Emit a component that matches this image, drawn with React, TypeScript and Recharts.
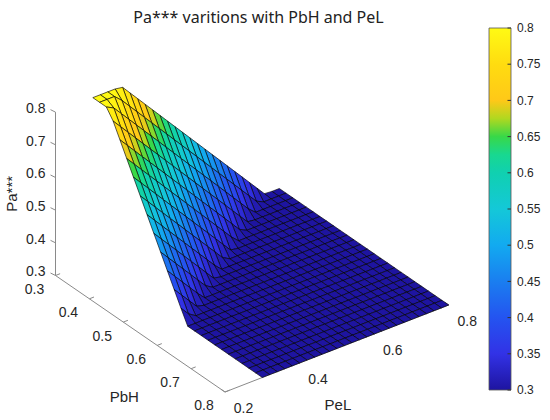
import React from 'react';
import { ScatterChart, Scatter, XAxis, YAxis, BarChart, Bar } from 'recharts';

// ---------- data ----------
const PBH = [0.3, 0.32, 0.34, 0.36, 0.38, 0.4, 0.42, 0.44, 0.46, 0.48, 0.5, 0.52, 0.54, 0.56, 0.58, 0.6, 0.62, 0.64, 0.66, 0.68, 0.7, 0.72, 0.74, 0.76, 0.78, 0.8];
const PEL = [0.3, 0.32, 0.34, 0.36, 0.38, 0.4, 0.42, 0.44, 0.46, 0.48, 0.5, 0.52, 0.54, 0.56, 0.58, 0.6, 0.62, 0.64, 0.66, 0.68, 0.7, 0.72, 0.74, 0.76, 0.78, 0.8];

// Pa*** values, one row per PbH, one column per PeL
const PA: number[][] = [
  [0.8, 0.8, 0.8, 0.8, 0.796, 0.77, 0.744, 0.718, 0.692, 0.666, 0.64, 0.614, 0.588, 0.562, 0.536, 0.51, 0.484, 0.458, 0.432, 0.406, 0.38, 0.354, 0.328, 0.302, 0.3, 0.3],
  [0.8, 0.8, 0.8, 0.779, 0.753, 0.727, 0.701, 0.675, 0.649, 0.623, 0.597, 0.571, 0.545, 0.519, 0.493, 0.467, 0.441, 0.415, 0.389, 0.363, 0.337, 0.311, 0.3, 0.3, 0.3, 0.3],
  [0.8, 0.788, 0.762, 0.736, 0.71, 0.684, 0.658, 0.632, 0.606, 0.58, 0.554, 0.528, 0.502, 0.476, 0.45, 0.424, 0.398, 0.372, 0.346, 0.32, 0.3, 0.3, 0.3, 0.3, 0.3, 0.3],
  [0.771, 0.745, 0.719, 0.693, 0.667, 0.641, 0.615, 0.589, 0.563, 0.537, 0.511, 0.485, 0.459, 0.433, 0.407, 0.381, 0.355, 0.329, 0.303, 0.3, 0.3, 0.3, 0.3, 0.3, 0.3, 0.3],
  [0.728, 0.702, 0.676, 0.65, 0.624, 0.598, 0.572, 0.546, 0.52, 0.494, 0.468, 0.442, 0.416, 0.39, 0.364, 0.338, 0.312, 0.3, 0.3, 0.3, 0.3, 0.3, 0.3, 0.3, 0.3, 0.3],
  [0.685, 0.659, 0.633, 0.607, 0.581, 0.555, 0.529, 0.503, 0.477, 0.451, 0.425, 0.399, 0.373, 0.347, 0.321, 0.3, 0.3, 0.3, 0.3, 0.3, 0.3, 0.3, 0.3, 0.3, 0.3, 0.3],
  [0.642, 0.616, 0.59, 0.564, 0.538, 0.512, 0.486, 0.46, 0.434, 0.408, 0.382, 0.356, 0.33, 0.304, 0.3, 0.3, 0.3, 0.3, 0.3, 0.3, 0.3, 0.3, 0.3, 0.3, 0.3, 0.3],
  [0.599, 0.573, 0.547, 0.521, 0.495, 0.469, 0.443, 0.417, 0.391, 0.365, 0.339, 0.313, 0.3, 0.3, 0.3, 0.3, 0.3, 0.3, 0.3, 0.3, 0.3, 0.3, 0.3, 0.3, 0.3, 0.3],
  [0.556, 0.53, 0.504, 0.478, 0.452, 0.426, 0.4, 0.374, 0.348, 0.322, 0.3, 0.3, 0.3, 0.3, 0.3, 0.3, 0.3, 0.3, 0.3, 0.3, 0.3, 0.3, 0.3, 0.3, 0.3, 0.3],
  [0.513, 0.487, 0.461, 0.435, 0.409, 0.383, 0.357, 0.331, 0.305, 0.3, 0.3, 0.3, 0.3, 0.3, 0.3, 0.3, 0.3, 0.3, 0.3, 0.3, 0.3, 0.3, 0.3, 0.3, 0.3, 0.3],
  [0.47, 0.444, 0.418, 0.392, 0.366, 0.34, 0.314, 0.3, 0.3, 0.3, 0.3, 0.3, 0.3, 0.3, 0.3, 0.3, 0.3, 0.3, 0.3, 0.3, 0.3, 0.3, 0.3, 0.3, 0.3, 0.3],
  [0.427, 0.401, 0.375, 0.349, 0.323, 0.3, 0.3, 0.3, 0.3, 0.3, 0.3, 0.3, 0.3, 0.3, 0.3, 0.3, 0.3, 0.3, 0.3, 0.3, 0.3, 0.3, 0.3, 0.3, 0.3, 0.3],
  [0.384, 0.358, 0.332, 0.306, 0.3, 0.3, 0.3, 0.3, 0.3, 0.3, 0.3, 0.3, 0.3, 0.3, 0.3, 0.3, 0.3, 0.3, 0.3, 0.3, 0.3, 0.3, 0.3, 0.3, 0.3, 0.3],
  [0.341, 0.315, 0.3, 0.3, 0.3, 0.3, 0.3, 0.3, 0.3, 0.3, 0.3, 0.3, 0.3, 0.3, 0.3, 0.3, 0.3, 0.3, 0.3, 0.3, 0.3, 0.3, 0.3, 0.3, 0.3, 0.3],
  [0.3, 0.3, 0.3, 0.3, 0.3, 0.3, 0.3, 0.3, 0.3, 0.3, 0.3, 0.3, 0.3, 0.3, 0.3, 0.3, 0.3, 0.3, 0.3, 0.3, 0.3, 0.3, 0.3, 0.3, 0.3, 0.3],
  [0.3, 0.3, 0.3, 0.3, 0.3, 0.3, 0.3, 0.3, 0.3, 0.3, 0.3, 0.3, 0.3, 0.3, 0.3, 0.3, 0.3, 0.3, 0.3, 0.3, 0.3, 0.3, 0.3, 0.3, 0.3, 0.3],
  [0.3, 0.3, 0.3, 0.3, 0.3, 0.3, 0.3, 0.3, 0.3, 0.3, 0.3, 0.3, 0.3, 0.3, 0.3, 0.3, 0.3, 0.3, 0.3, 0.3, 0.3, 0.3, 0.3, 0.3, 0.3, 0.3],
  [0.3, 0.3, 0.3, 0.3, 0.3, 0.3, 0.3, 0.3, 0.3, 0.3, 0.3, 0.3, 0.3, 0.3, 0.3, 0.3, 0.3, 0.3, 0.3, 0.3, 0.3, 0.3, 0.3, 0.3, 0.3, 0.3],
  [0.3, 0.3, 0.3, 0.3, 0.3, 0.3, 0.3, 0.3, 0.3, 0.3, 0.3, 0.3, 0.3, 0.3, 0.3, 0.3, 0.3, 0.3, 0.3, 0.3, 0.3, 0.3, 0.3, 0.3, 0.3, 0.3],
  [0.3, 0.3, 0.3, 0.3, 0.3, 0.3, 0.3, 0.3, 0.3, 0.3, 0.3, 0.3, 0.3, 0.3, 0.3, 0.3, 0.3, 0.3, 0.3, 0.3, 0.3, 0.3, 0.3, 0.3, 0.3, 0.3],
  [0.3, 0.3, 0.3, 0.3, 0.3, 0.3, 0.3, 0.3, 0.3, 0.3, 0.3, 0.3, 0.3, 0.3, 0.3, 0.3, 0.3, 0.3, 0.3, 0.3, 0.3, 0.3, 0.3, 0.3, 0.3, 0.3],
  [0.3, 0.3, 0.3, 0.3, 0.3, 0.3, 0.3, 0.3, 0.3, 0.3, 0.3, 0.3, 0.3, 0.3, 0.3, 0.3, 0.3, 0.3, 0.3, 0.3, 0.3, 0.3, 0.3, 0.3, 0.3, 0.3],
  [0.3, 0.3, 0.3, 0.3, 0.3, 0.3, 0.3, 0.3, 0.3, 0.3, 0.3, 0.3, 0.3, 0.3, 0.3, 0.3, 0.3, 0.3, 0.3, 0.3, 0.3, 0.3, 0.3, 0.3, 0.3, 0.3],
  [0.3, 0.3, 0.3, 0.3, 0.3, 0.3, 0.3, 0.3, 0.3, 0.3, 0.3, 0.3, 0.3, 0.3, 0.3, 0.3, 0.3, 0.3, 0.3, 0.3, 0.3, 0.3, 0.3, 0.3, 0.3, 0.3],
  [0.3, 0.3, 0.3, 0.3, 0.3, 0.3, 0.3, 0.3, 0.3, 0.3, 0.3, 0.3, 0.3, 0.3, 0.3, 0.3, 0.3, 0.3, 0.3, 0.3, 0.3, 0.3, 0.3, 0.3, 0.3, 0.3],
  [0.3, 0.3, 0.3, 0.3, 0.3, 0.3, 0.3, 0.3, 0.3, 0.3, 0.3, 0.3, 0.3, 0.3, 0.3, 0.3, 0.3, 0.3, 0.3, 0.3, 0.3, 0.3, 0.3, 0.3, 0.3, 0.3],
];

const Z_TICKS = [0.3, 0.4, 0.5, 0.6, 0.7, 0.8];
const PBH_TICKS = [0.3, 0.4, 0.5, 0.6, 0.7, 0.8];
const PEL_TICKS = [0.2, 0.4, 0.6, 0.8];
const CBAR_TICKS = [0.3, 0.35, 0.4, 0.45, 0.5, 0.55, 0.6, 0.65, 0.7, 0.75, 0.8];

const PBH_LIM = [0.3, 0.8];
const PEL_LIM = [0.2, 0.8];
const PA_LIM = [0.3, 0.8];

const CMAP_VALUES = [0.3, 0.35, 0.4, 0.45, 0.5, 0.55, 0.6, 0.625, 0.65, 0.675, 0.7, 0.75, 0.8];
const CMAP_COLORS = ['#1e14a0', '#3232e6', '#2454f0', '#1a7ef0', '#12aaf0', '#14c8d8', '#10d0b0', '#18d890', '#38d848', '#b0d820', '#ffc818', '#ffdc10', '#fffa14'];

const TITLE = 'Pa*** varitions with PbH and PeL';
const Z_LABEL = 'Pa***';
const X_LABEL = 'PbH';
const Y_LABEL = 'PeL';

// ---------- view (3-D projection into the chart's 2-D plane) ----------
const W = 550;
const H = 420;
const ORIGIN = [55.5, 275.5];
const V_PBH = [339, 233];
const V_PEL = [373, -145];
const V_PA = [0, -326.7];

function project(pbh: number, pel: number, pa: number) {
  const a = pbh - PBH_LIM[0];
  const b = pel - PEL_LIM[0];
  const c = pa - PA_LIM[0];
  return {
    sx: ORIGIN[0] + a * V_PBH[0] + b * V_PEL[0] + c * V_PA[0],
    sy: ORIGIN[1] + a * V_PBH[1] + b * V_PEL[1] + c * V_PA[1],
  };
}

function hexToRgb(h: string) {
  return [parseInt(h.slice(1, 3), 16), parseInt(h.slice(3, 5), 16), parseInt(h.slice(5, 7), 16)];
}
function colorAt(v: number) {
  if (v <= CMAP_VALUES[0]) return CMAP_COLORS[0];
  for (let k = 1; k < CMAP_VALUES.length; k++) {
    if (v <= CMAP_VALUES[k]) {
      const t = (v - CMAP_VALUES[k - 1]) / (CMAP_VALUES[k] - CMAP_VALUES[k - 1]);
      const a = hexToRgb(CMAP_COLORS[k - 1]);
      const b = hexToRgb(CMAP_COLORS[k]);
      const r = a.map((x, n) => Math.round(x + (b[n] - x) * t));
      return `rgb(${r[0]},${r[1]},${r[2]})`;
    }
  }
  return CMAP_COLORS[CMAP_COLORS.length - 1];
}

// surface vertices, ordered far-to-near (PbH ascending, PeL descending)
const surfaceData: any[] = [];
for (let i = 0; i < PBH.length; i++) {
  for (let j = PEL.length - 1; j >= 0; j--) {
    surfaceData.push({ ...project(PBH[i], PEL[j], PA[i][j]), i, j });
  }
}

const zAxisLine = [project(PBH_LIM[0], PEL_LIM[0], PA_LIM[0]), project(PBH_LIM[0], PEL_LIM[0], PA_LIM[1])];
const pbhAxisLine = [project(PBH_LIM[0], PEL_LIM[0], PA_LIM[0]), project(PBH_LIM[1], PEL_LIM[0], PA_LIM[0])];
const pelAxisLine = [project(PBH_LIM[1], PEL_LIM[0], PA_LIM[0]), project(PBH_LIM[1], PEL_LIM[1], PA_LIM[0])];

const zTickData = Z_TICKS.map((v) => ({ ...project(PBH_LIM[0], PEL_LIM[0], v), value: v }));
const pbhTickData = PBH_TICKS.map((v) => ({ ...project(v, PEL_LIM[0], PA_LIM[0]), value: v }));
const pelTickData = PEL_TICKS.map((v) => ({ ...project(PBH_LIM[1], v, PA_LIM[0]), value: v }));

const zTitleData = [{ ...project(PBH_LIM[0], PEL_LIM[0], (PA_LIM[0] + PA_LIM[1]) / 2), label: Z_LABEL }];
const pbhTitleData = [{ ...project((PBH_LIM[0] + PBH_LIM[1]) / 2, PEL_LIM[0], PA_LIM[0]), label: X_LABEL }];
const pelTitleData = [{ ...project(PBH_LIM[1], (PEL_LIM[0] + PEL_LIM[1]) / 2, PA_LIM[0]), label: Y_LABEL }];

const TICK_FONT = '"Liberation Sans", Arial, sans-serif';
const TEXT_COLOR = '#262626';
const AXIS_COLOR = '#8a8a8a';

const vertexCache = new Map<string, [number, number]>();

function SurfaceVertex(props: any) {
  const { cx, cy, payload } = props;
  if (cx == null || cy == null || !payload) return <g />;
  const { i, j } = payload;
  vertexCache.set(i + ',' + j, [cx, cy]);
  if (i === 0 || j === PEL.length - 1) return <g />;
  const p1 = vertexCache.get(i - 1 + ',' + j);
  const p2 = vertexCache.get(i - 1 + ',' + (j + 1));
  const p3 = vertexCache.get(i + ',' + (j + 1));
  if (!p1 || !p2 || !p3) return <g />;
  const v = (PA[i][j] + PA[i - 1][j] + PA[i - 1][j + 1] + PA[i][j + 1]) / 4;
  return (
    <polygon
      points={`${p1[0]},${p1[1]} ${p2[0]},${p2[1]} ${p3[0]},${p3[1]} ${cx},${cy}`}
      fill={colorAt(v)}
      stroke="#000"
      strokeWidth={0.75}
      strokeOpacity={0.85}
      strokeLinejoin="round"
    />
  );
}

const Empty = () => <g />;

function ZTick(props: any) {
  const { cx, cy, payload } = props;
  return (
    <g>
      <line x1={cx} y1={cy} x2={cx - 5} y2={cy - 2.5} stroke={AXIS_COLOR} />
      <text x={cx - 10} y={cy - 4} dy="0.35em" textAnchor="end" fontFamily={TICK_FONT} fontSize={14} fill={TEXT_COLOR}>
        {String(payload.value)}
      </text>
    </g>
  );
}
function PbhTick(props: any) {
  const { cx, cy, payload } = props;
  return (
    <g>
      <line x1={cx} y1={cy} x2={cx + 4.6} y2={cy - 1.8} stroke={AXIS_COLOR} />
      <text x={cx - 21} y={cy + 13.5} dy="0.35em" textAnchor="middle" fontFamily={TICK_FONT} fontSize={14} fill={TEXT_COLOR}>
        {String(payload.value)}
      </text>
    </g>
  );
}
function PelTick(props: any) {
  const { cx, cy, payload } = props;
  return (
    <g>
      <line x1={cx} y1={cy} x2={cx - 4.1} y2={cy - 2.8} stroke={AXIS_COLOR} />
      <text x={cx + 18.5} y={cy + 16} dy="0.35em" textAnchor="middle" fontFamily={TICK_FONT} fontSize={14} fill={TEXT_COLOR}>
        {String(payload.value)}
      </text>
    </g>
  );
}
function ZTitle(props: any) {
  const { cx, cy, payload } = props;
  const x = cx - 43.5;
  return (
    <text x={x} y={cy} dy="0.35em" textAnchor="middle" transform={`rotate(-90 ${x} ${cy})`} fontFamily={TICK_FONT} fontSize={15} fill={TEXT_COLOR}>
      {payload.label}
    </text>
  );
}
function PbhTitle(props: any) {
  const { cx, cy, payload } = props;
  return (
    <text x={cx - 16} y={cy + 63} dy="0.35em" textAnchor="middle" fontFamily={TICK_FONT} fontSize={15} fill={TEXT_COLOR}>
      {payload.label}
    </text>
  );
}
function PelTitle(props: any) {
  const { cx, cy, payload } = props;
  return (
    <text x={cx + 1} y={cy + 56.5} dy="0.35em" textAnchor="middle" fontFamily={TICK_FONT} fontSize={15} fill={TEXT_COLOR}>
      {payload.label}
    </text>
  );
}

const cbarData = [{ name: 'Pa***', range: [PA_LIM[0], PA_LIM[1]] }];

function CbarTick(props: any) {
  const { x, y, payload } = props;
  return (
    <g>
      <line x1={x - 9.5} y1={y} x2={x - 6} y2={y} stroke="#333" />
      <text x={x} y={y} dy="0.35em" textAnchor="start" fontFamily={TICK_FONT} fontSize={12} fill={TEXT_COLOR}>
        {String(payload.value)}
      </text>
    </g>
  );
}

export default function App() {
  const lineStyle = { stroke: AXIS_COLOR, strokeWidth: 1 };
  return (
    <div style={{ position: 'absolute', left: 0, top: 0, width: W, height: H, background: '#fff' }}>
      <svg width={W} height={40} style={{ position: 'absolute', left: 0, top: 0 }}>
        <text x={258.5} y={23} textAnchor="middle" fontFamily='"Noto Sans", "Open Sans", sans-serif' fontSize={16} fill="#222">
          {TITLE}
        </text>
      </svg>
      <div style={{ position: 'absolute', left: 0, top: 0 }}>
        <ScatterChart width={W} height={H} margin={{ top: 0, right: 0, bottom: 0, left: 0 }}>
          <XAxis type="number" dataKey="sx" domain={[0, W]} allowDataOverflow hide />
          <YAxis type="number" dataKey="sy" domain={[0, H]} allowDataOverflow reversed hide />
          <Scatter data={zAxisLine} line={lineStyle} shape={Empty} isAnimationActive={false} />
          <Scatter data={pbhAxisLine} line={lineStyle} shape={Empty} isAnimationActive={false} />
          <Scatter data={pelAxisLine} line={lineStyle} shape={Empty} isAnimationActive={false} />
          <Scatter data={zTickData} shape={ZTick} isAnimationActive={false} />
          <Scatter data={pbhTickData} shape={PbhTick} isAnimationActive={false} />
          <Scatter data={pelTickData} shape={PelTick} isAnimationActive={false} />
          <Scatter data={zTitleData} shape={ZTitle} isAnimationActive={false} />
          <Scatter data={pbhTitleData} shape={PbhTitle} isAnimationActive={false} />
          <Scatter data={pelTitleData} shape={PelTitle} isAnimationActive={false} />
          <Scatter data={surfaceData} shape={SurfaceVertex} isAnimationActive={false} />
        </ScatterChart>
      </div>
      <div style={{ position: 'absolute', left: 470, top: 0 }}>
        <BarChart width={80} height={H} data={cbarData} margin={{ top: 28, right: 9, bottom: 30, left: 19 }} barCategoryGap={0}>
          <defs>
            <linearGradient id="parulaGrad" x1="0" y1="1" x2="0" y2="0">
              {CMAP_VALUES.map((v, k) => (
                <stop key={k} offset={(v - PA_LIM[0]) / (PA_LIM[1] - PA_LIM[0])} stopColor={CMAP_COLORS[k]} />
              ))}
            </linearGradient>
          </defs>
          <XAxis dataKey="name" hide />
          <YAxis
            type="number"
            orientation="right"
            domain={[PA_LIM[0], PA_LIM[1]]}
            ticks={CBAR_TICKS}
            width={30}
            axisLine={false}
            tickLine={false}
            tickSize={0}
            tickMargin={6}
            tick={CbarTick}
            interval={0}
          />
          <Bar dataKey="range" fill="url(#parulaGrad)" stroke="#555" strokeWidth={0.8} isAnimationActive={false} />
        </BarChart>
      </div>
    </div>
  );
}
